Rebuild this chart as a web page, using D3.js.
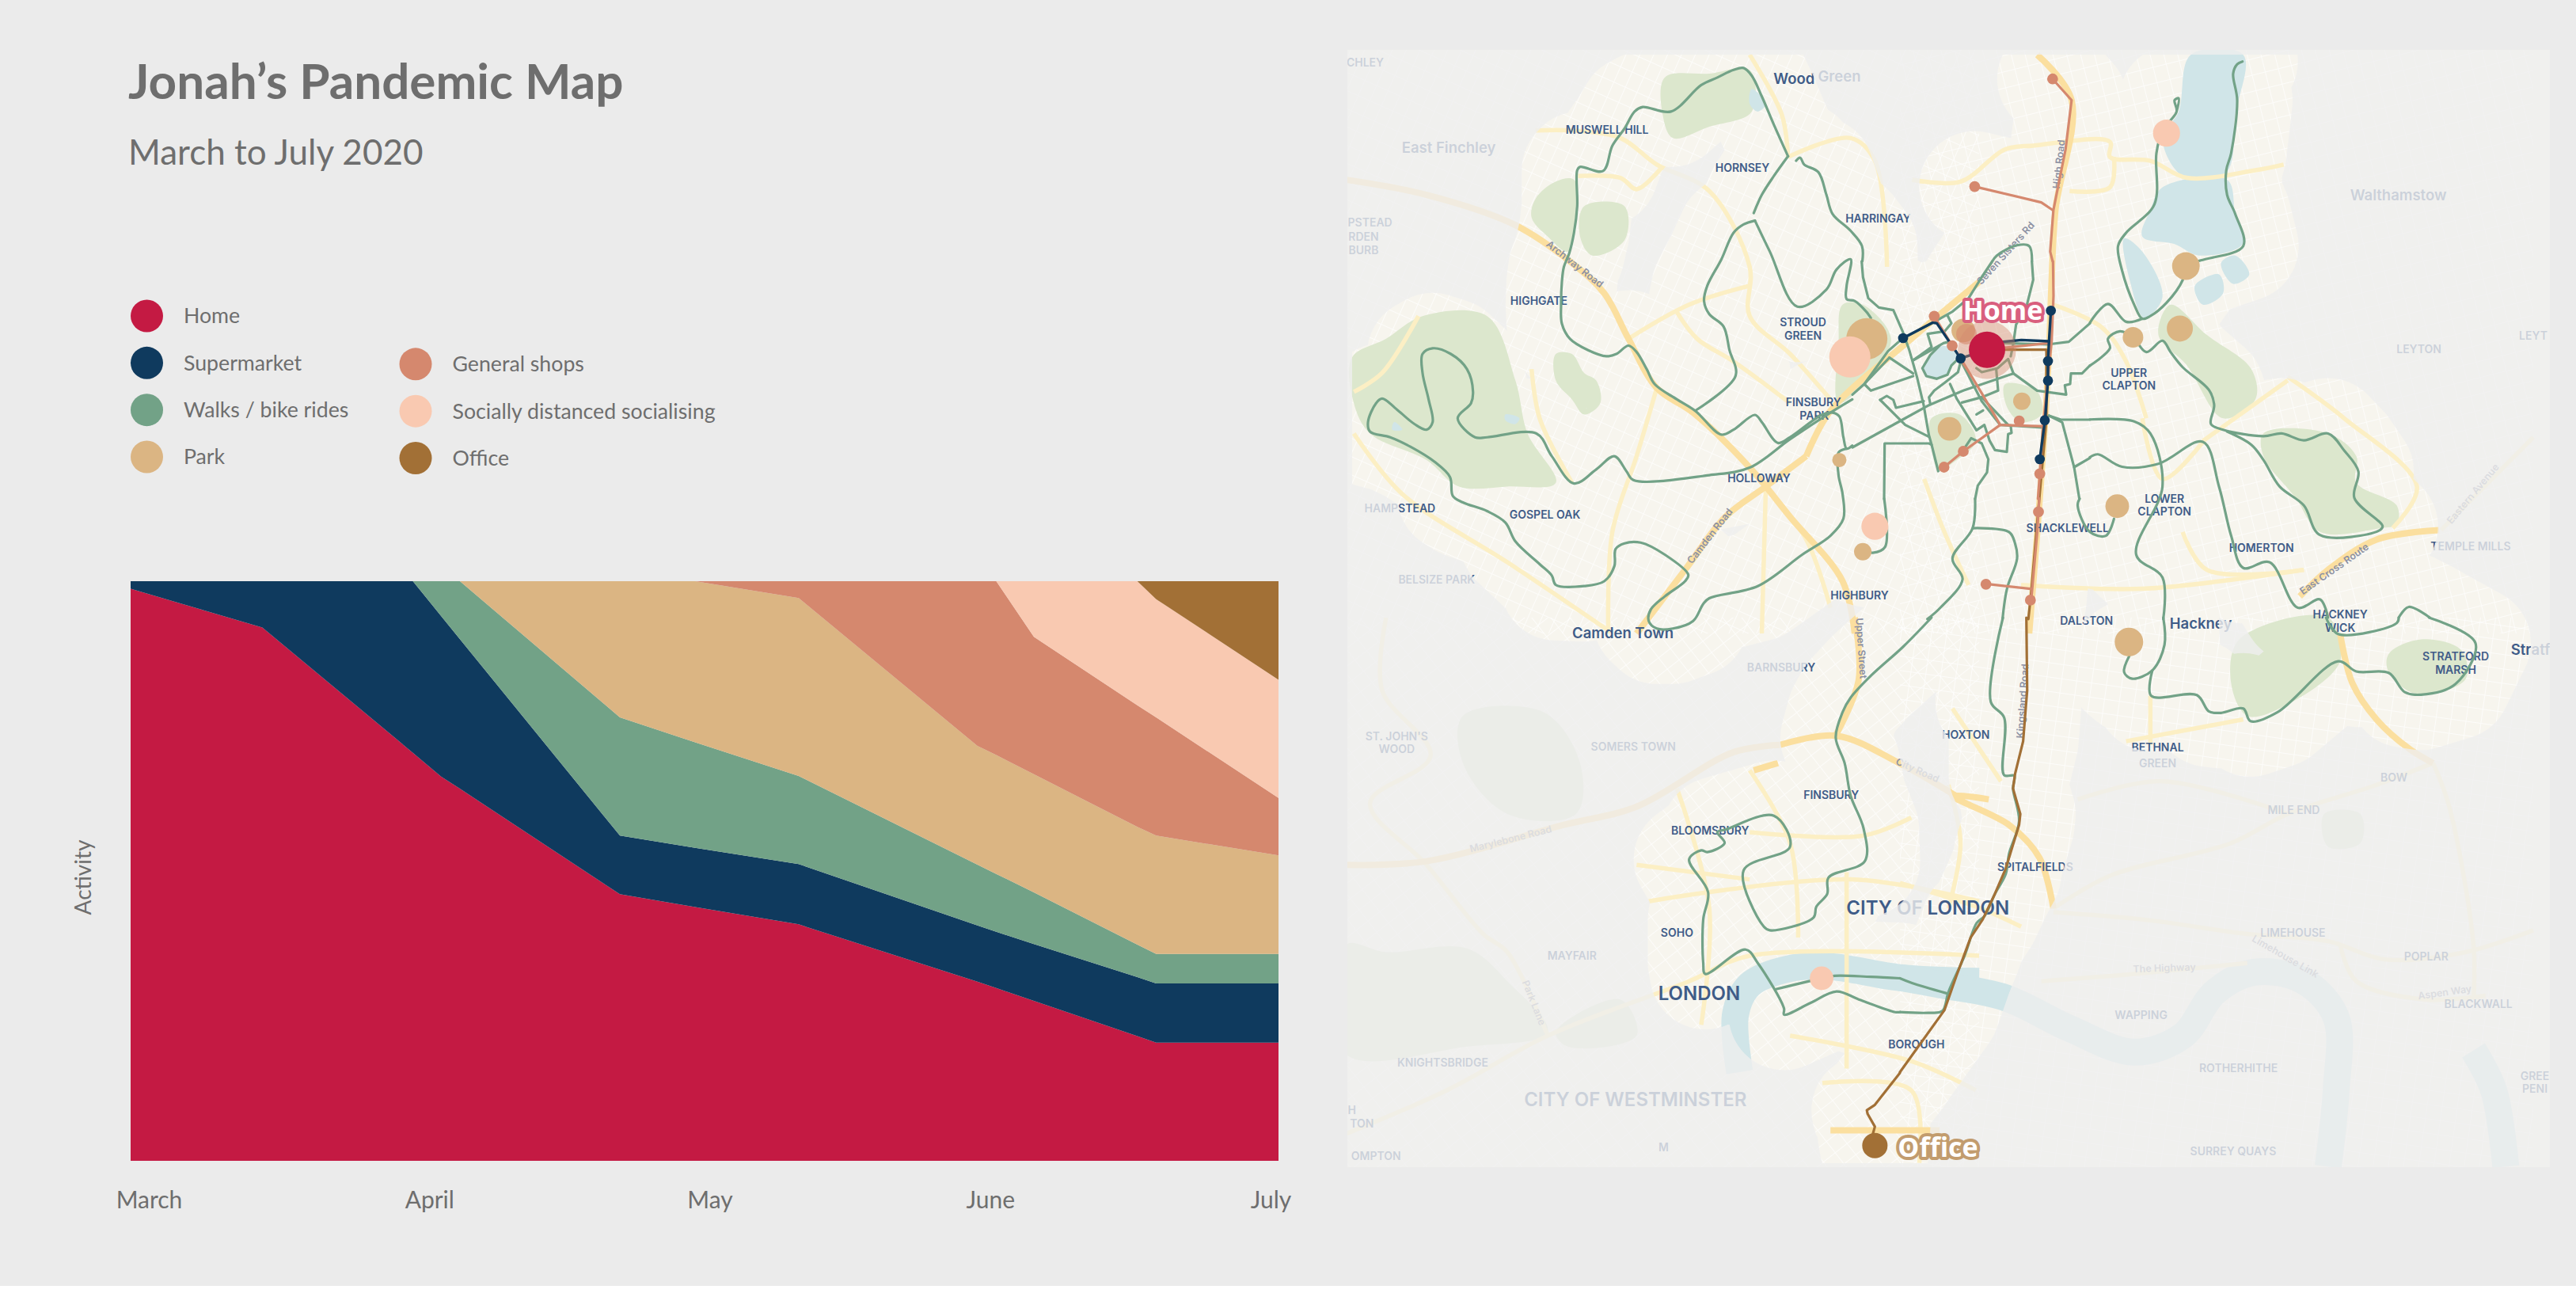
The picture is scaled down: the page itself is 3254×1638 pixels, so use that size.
<!DOCTYPE html>
<html>
<head>
<meta charset="utf-8">
<script src="https://cdnjs.cloudflare.com/ajax/libs/d3/7.8.5/d3.min.js"></script>
<style>
  html, body { margin: 0; background: #fff; }
  svg text { font-family: "Lato", "Open Sans", sans-serif; }
  .maplabel { font-family: "Inter", "Noto Sans", sans-serif !important; font-weight: 600; }
</style>
</head>
<body>
<div class="container"></div>
<script>
// ---- chart data: share of activity (%) at each day since 1 March
var days = [0, 14, 30, 33, 35, 52, 60, 71, 90, 92, 96, 107, 109, 122];
var home =        [98.7, 92.0, 70.4, 66.3, 64.2, 46.0, 43.8, 40.8, 30.9, 29.8, 27.6, 21.5, 20.4, 20.4];
var supermarket = [1.3, 8.0, 29.6, 27.7, 25.8, 10.1, 10.2, 10.4, 9.7, 9.7, 9.8, 10.2, 10.2, 10.2];
var walks =       [0, 0, 0, 6.0, 10.0, 20.4, 18.2, 15.2, 10.5, 10.0, 8.9, 5.6, 5.1, 5.1];
var park =        [0, 0, 0, 0, 0, 23.5, 27.8, 30.7, 20.5, 20.5, 20.4, 20.3, 20.4, 17.0];
var shops =       [0, 0, 0, 0, 0, 0, 0, 2.9, 28.4, 30.0, 23.7, 21.0, 20.4, 9.9];
var social =      [0, 0, 0, 0, 0, 0, 0, 0, 0, 0, 9.6, 21.4, 20.4, 20.4];
var office =      [0, 0, 0, 0, 0, 0, 0, 0, 0, 0, 0, 0, 3.1, 17.0];

var months = ["March", "April", "May", "June", "July"];
var seriesNames = ["Home", "Supermarket", "Walks / bike rides", "Park", "General shops", "Socially distanced socialising", "Office"];
var seriesColors = ["#C41A43", "#0F3A5E", "#72A287", "#DBB583", "#D5886E", "#F9C9B1", "#A27036"];

// ---- map data: every list is [sheet, [x, y], [x, y] ...] in map sheet grid units
var walkRoutes = [
  ["nw", [1095,308],[1060,225],[1030,150],[1005,95],[985,75],[960,80],[920,100],[880,120],[805,190],[735,178],[715,190],[690,235],[660,280],[637,347],[580,336],[573,345],[573,440],[565,510],[553,565],[540,600],[535,640],[533,700],[535,750],[555,790],[600,820],[645,836],[670,830],[700,808],[720,825],[745,870],[765,910],[820,950],[865,980],[930,1043],[960,1030],[1013,991],[1030,1010],[1070,1065],[1100,1050],[1180,990],[1205,985],[1222,995],[1232,1050],[1240,1080],[1254,1072]],
  ["nw", [1095,308],[1060,360],[1030,410],[1010,458]],
  ["nw", [1013,478],[985,488],[960,510],[930,580],[895,650],[887,690],[900,725],[935,757],[950,820],[965,888],[865,980]],
  ["nw", [1013,478],[1050,560],[1118,705],[1190,660],[1215,607],[1250,580],[1240,650],[1240,685],[1260,690],[1290,720],[1300,735]],
  ["nw", [1115,320],[1125,312],[1135,330],[1170,350],[1190,410],[1205,460],[1250,505],[1278,545],[1279,585]],
  ["nw", [1254,950],[1200,985],[1100,1055],[1000,1130],[900,1150],[712,1163],[695,1140],[665,1100],[620,1135],[565,1172],[510,1100],[472,1040],[350,1050],[320,1050],[277,1000],[310,960],[315,930],[300,870],[260,830],[215,815],[190,830],[190,880],[205,950],[215,1010],[200,1030],[170,1015],[130,980],[90,948],[75,960],[55,1010],[60,1035],[110,1050],[160,1075],[220,1115],[258,1155],[265,1205],[290,1222],[350,1245],[395,1275],[420,1325],[480,1385],[510,1415],[520,1440],[590,1443],[640,1430],[665,1390],[668,1345],[690,1330],[730,1328],[790,1360],[848,1413],[840,1430],[790,1470],[755,1505],[750,1535],[770,1555],[810,1555],[860,1535],[885,1490],[900,1475],[1020,1443],[1130,1360],[1200,1310],[1232,1265],[1230,1200],[1220,1150],[1220,1090],[1240,1080]],
  ["nw", [1333,1212],[1335,1340],[1305,1355],[1285,1350]],
  ["ne", [848,58],[835,65],[825,90],[835,160],[820,300],[808,345],[810,410],[830,460],[850,545],[745,583],[708,598],[700,635],[660,695],[620,730],[600,737],[580,700],[550,610],[540,545],[560,510],[630,435],[635,300],[650,240],[685,190],[680,160],[690,155],[685,190]],
  ["ne", [470,748],[515,698],[560,745],[600,737]],
  ["ne", [470,861],[520,815],[515,790],[545,770],[577,786],[610,825],[650,795],[670,825],[700,865],[765,925],[778,965],[770,1015],[800,1030],[900,1047],[945,1040],[1000,1058],[1060,1040],[1100,1085],[1135,1140],[1125,1210],[1195,1285],[1185,1297],[1040,1308],[1000,1230],[940,1180],[900,1110],[870,1070],[810,1035]],
  ["ne", [470,1003],[580,1008],[620,1040],[650,1180],[585,1360],[650,1420],[652,1530]],
  ["ne", [470,1103],[490,1095],[550,1128],[640,1120],[750,1062],[790,1180],[820,1310],[850,1395],[915,1380],[985,1500],[1040,1478],[1060,1526]],
  ["ne", [1235,1526],[1260,1498],[1312,1526]],
  ["ne", [445,1212],[440,1230],[470,1300],[510,1310],[530,1265]],
  ["ne", [186,1212],[180,1290],[130,1370],[155,1425],[100,1500],[68,1530]],
  ["ne", [180,1290],[270,1300],[285,1330],[290,1370],[265,1450],[254,1530]],
  ["ne", [229,585],[240,570],[290,543],[320,545],[327,585]],
  ["sw", [1450,0],[1380,80],[1300,160],[1250,220],[1230,260],[1213,330],[1235,400],[1250,490],[1282,580],[1285,670],[1195,715],[1192,760],[1165,795],[1158,825],[1050,860],[1035,850],[985,695],[1100,630],[1060,545],[940,583],[920,590],[938,620],[895,645],[880,640],[850,665],[897,755],[885,830],[885,950],[890,980],[990,913],[1020,950],[1085,1075],[1085,1092],[1150,1060],[1215,1028],[1270,1050],[1360,1085],[1372,1085]],
  ["sw", [1065,1022],[1178,992],[1210,985],[1300,988],[1372,992]],
  ["se", [0,1085],[70,1087],[105,1082],[120,1030],[160,930],[190,840],[210,820],[235,760],[262,705],[270,650],[295,560],[280,470],[283,435],[258,433],[258,275],[225,232],[255,0]],
  ["se", [0,992],[30,1005],[115,1033]],
  ["se", [568,105],[555,150],[575,168],[625,145],[655,75],[652,0]],
  ["se", [625,145],[622,215],[735,213],[765,258],[795,262],[850,250],[868,285],[935,260],[1085,120],[1130,148],[1210,152],[1250,205],[1290,212],[1375,183],[1425,70],[1310,0]],
  ["se", [1055,0],[1085,45],[1230,15],[1235,0]]
];
// the streets round the house are too tight for a smoothed line
var localWalks = [
  ["mid", [35,0],[40,60],[60,140],[100,175],[155,185],[190,265],[215,335],[245,440],[270,545],[290,660],[300,695],[325,795]],
  ["mid", [530,0],[490,60],[440,140],[380,190],[300,235],[190,292],[135,340],[45,465],[0,505]],
  ["mid", [140,365],[230,425]],
  ["mid", [140,365],[45,465],[70,490],[230,435]],
  ["mid", [360,205],[375,235],[350,265],[285,275],[300,325],[230,375]],
  ["mid", [230,375],[345,310],[365,305]],
  ["mid", [405,365],[375,395],[360,430],[320,445],[280,435],[265,405],[295,355],[330,320]],
  ["mid", [410,380],[400,420],[350,460],[310,490],[290,515],[295,540]],
  ["mid", [0,705],[190,600],[290,545],[420,490],[610,425],[700,490],[810,505],[805,470],[825,465],[828,425],[870,425],[900,395]],
  ["mid", [105,525],[130,510],[155,525],[165,555],[270,530]],
  ["mid", [105,525],[200,620],[290,665]],
  ["mid", [370,465],[395,520],[470,640],[500,620],[520,680],[540,715],[585,722],[590,655],[603,650],[600,625]],
  ["mid", [415,385],[490,530],[560,620],[720,630]],
  ["mid", [545,410],[552,490],[490,515],[415,535]],
  ["mid", [490,515],[590,620]],
  ["mid", [470,580],[495,565]],
  ["mid", [470,405],[490,420],[550,405],[590,370],[610,425]],
  ["mid", [680,0],[685,70],[660,170],[620,240],[610,310],[600,360]],
  ["mid", [575,310],[740,315],[820,305],[900,235]],
  ["mid", [120,900],[122,690],[290,690],[300,695]],
  ["mid", [420,715],[450,670],[490,690],[515,750],[510,800],[475,850],[465,900]],
  ["mid", [745,585],[790,600],[900,600]],
  ["mid", [745,585],[795,610],[840,780],[860,900]],
  ["mid", [840,780],[900,745]]
];
var shopRoutes = [
  ["ne", [378,104],[425,160],[410,290],[380,450],[372,560],[378,585]],
  ["ne", [185,388],[350,430],[378,450]],
  ["ne", [345,1212],[340,1300],[325,1480]],
  ["ne", [213,1437],[323,1450]],
  ["mid", [310,208],[378,320],[410,368],[490,500],[560,620],[725,625]],
  ["mid", [560,620],[420,720],[347,780]],
  ["mid", [510,335],[740,310]],
  ["mid", [760,0],[762,130],[755,300],[735,500],[722,625],[710,805],[703,900]]
];
var supermarketRoutes = [
  ["mid", [192,291],[305,232],[320,235],[410,368],[510,335]],
  ["mid", [510,335],[570,305],[640,298],[745,303],[752,187]],
  ["mid", [745,303],[741,378],[741,452],[730,600],[710,750]]
];
var officeRoutes = [
  ["mid", [510,335],[735,335],[735,600],[708,900]],
  ["ne", [345,1212],[325,1460],[318,1530]],
  ["se", [313,0],[315,200],[305,340],[285,430],[280,470],[298,540],[295,570],[262,690],[235,760],[205,830],[175,880],[140,985],[110,1080],[0,1250]],
  ["sw", [1372,1252],[1310,1340],[1290,1355],[1292,1365],[1310,1400],[1305,1420],[1310,1452]]
];

// stops: [sheet, x, y, visits]
var parkStops = [["nw",1290,790,100],["nw",1222,1110,12],["nw",1280,1352,18],["ne",708,598,45],["ne",693,763,40],["ne",577,786,25],["mid",420,262,33],["mid",642,530,18],["mid",368,635,33],["ne",538,1232,33],["se",567,67,48]];
var socialStops = [["nw",1248,838,100],["ne",660,247,43],["nw",1310,1285,43],["sw",1178,992,33]];
var shopStops = [["ne",378,104,7],["ne",185,388,7],["mid",310,208,7],["mid",378,320,7],["mid",632,605,7],["mid",420,720,7],["mid",347,780,7],["mid",710,805,7],["ne",343,1247,7],["ne",323,1480,7],["ne",213,1438,7]];
var supermarketStops = [["mid",192,291,6],["mid",410,368,6],["mid",752,187,6],["mid",741,378,6],["mid",741,452,6],["mid",729,602,6],["mid",710,750,6]];
var homeStop = ["mid",510,335,78];
var officeStop = ["sw",1310,1452,38];

// basemap shapes, same sheets
var parks = [
  ["nw", [15,840],[100,790],[190,730],[350,730],[420,900],[450,1040],[520,1170],[400,1180],[280,1180],[200,1110],[60,1040],[20,960]],
  ["nw", [470,420],[520,375],[565,370],[570,470],[550,560],[500,520],[460,470]],
  ["nw", [590,440],[690,440],[690,530],[610,570],[580,520]],
  ["nw", [790,100],[900,90],[1000,80],[1005,190],[900,230],[810,260],[785,200]],
  ["nw", [520,830],[560,830],[590,880],[620,900],[630,960],[590,990],[560,950],[520,900]],
  ["nw", [1230,700],[1280,700],[1350,790],[1290,900],[1220,960],[1220,800]],
  ["nw", [1450,1000],[1520,990],[1560,1060],[1500,1120],[1470,1140],[1450,1080]],
  ["ne", [670,700],[760,780],[870,870],[880,950],[800,1000],[710,860],[640,780]],
  ["ne", [900,1040],[1060,1040],[1130,1100],[1130,1170],[1230,1230],[1230,1280],[1190,1290],[1040,1300],[980,1210],[900,1100]],
  ["ne", [260,910],[340,930],[350,990],[300,1010],[265,970]],
  ["se", [840,60],[1060,0],[1090,120],[940,250],[860,270],[820,180]],
  ["se", [1210,100],[1290,60],[1390,90],[1400,170],[1280,210],[1210,150]],
  ["sw", [290,270],[490,260],[580,400],[570,540],[400,540],[290,400]],
  ["sw", [0,900],[100,920],[300,910],[400,1000],[500,1140],[300,1180],[0,1200]],
  ["sw", [520,1140],[680,1050],[720,1150],[550,1180]],
  ["se", [1050,540],[1140,540],[1140,620],[1060,630]]
];
var waters = [
  ["ne", [720,40],[850,40],[830,200],[808,350],[700,360],[650,260],[690,190]],
  ["ne", [650,390],[810,370],[830,460],[848,540],[740,570],[680,540],[600,520],[620,450]],
  ["ne", [555,525],[600,560],[650,680],[605,735],[570,640]],
  ["mid", [395,345],[345,320],[295,355],[265,405],[280,435],[320,445],[360,430],[375,395]],
  ["ne", [730,650],[790,620],[800,670],[750,700]],
  ["ne", [795,590],[830,570],[865,620],[825,645]],
  ["nw", [395,990],[430,1000],[420,1015],[395,1005]],
  ["nw", [120,1010],[140,1030],[115,1030]],
  ["nw", [1005,130],[1040,170],[1020,190],[1000,170]]
];
var rivers = [
  ["sw", [1568,1000],[1370,990],[1200,960],[1100,965],[1000,1010],[965,1090],[975,1250]],
  ["se", [0,990],[100,1010],[260,1045],[420,1130],[580,1195],[700,1150],[780,1030],[880,975],[1000,1000],[1080,1100],[1080,1300],[1060,1510]],
  ["se", [1420,1190],[1470,1300],[1500,1510]]
];
var mainRoads = [
  ["nw", [0,370],[200,410],[420,490],[560,590],[640,670],[700,790],[770,920],[860,985],[1000,1130],[1100,1260],[1230,1430],[1260,1568]],
  ["nw", [1140,1100],[1040,1180],[940,1260],[840,1400],[720,1568]],
  ["nw", [1568,640],[1400,790],[1200,980],[1140,1100]],
  ["ne", [340,40],[425,160],[385,450],[375,650],[370,800],[360,1000],[340,1300],[320,1568]],
  ["ne", [990,1470],[1060,1400],[1180,1320],[1335,1295]],
  ["sw", [1075,350],[1215,325],[1370,400],[1510,490]],
  ["sw", [1010,420],[1070,400]],
  ["sw", [1260,0],[1270,170],[1215,320]],
  ["sw", [0,680],[200,670],[540,570],[720,520],[960,370],[1075,350]],
  ["sw", [1200,1410],[1470,1410]],
  ["se", [220,500],[130,490],[270,570],[345,660],[380,800]],
  ["se", [1090,45],[1120,180],[1180,280],[1260,360],[1320,400]]
];
var sideRoads = [
  ["nw", [470,240],[560,240],[680,260],[770,330],[900,400],[1000,600],[1000,730],[1100,830],[1200,950]],
  ["nw", [1095,310],[1250,260],[1310,320],[1340,600]],
  ["nw", [1000,40],[1080,200],[1095,310]],
  ["nw", [770,920],[720,1100],[660,1300],[650,1568]],
  ["nw", [180,730],[90,880],[20,930]],
  ["nw", [20,1040],[140,1200],[400,1380],[650,1560]],
  ["nw", [700,790],[850,700],[1000,650]],
  ["nw", [820,720],[870,790],[960,850],[1100,960]],
  ["nw", [1040,1180],[1030,1568]],
  ["nw", [1040,1180],[1140,1320],[1200,1500]],
  ["nw", [460,870],[480,1000],[560,1170]],
  ["nw", [575,360],[680,365],[720,395],[780,340]],
  ["ne", [30,370],[150,375],[260,290],[330,280],[520,270],[520,310],[620,320],[710,365],[880,345],[950,330]],
  ["ne", [380,700],[500,760],[560,850],[610,1000]],
  ["ne", [750,1060],[960,900]],
  ["ne", [960,890],[1100,1000],[1280,1180],[1220,1290]],
  ["ne", [1340,1295],[1568,1050]],
  ["ne", [300,1440],[600,1450],[1000,1400]],
  ["ne", [420,400],[520,390],[530,310]],
  ["ne", [600,1000],[650,1160],[750,1062]],
  ["ne", [700,1300],[760,1400],[1000,1400]],
  ["ne", [60,1160],[110,1300],[170,1440]],
  ["sw", [100,0],[90,200],[210,380],[60,510],[200,680],[340,870],[400,920],[500,1150]],
  ["sw", [0,1420],[250,1300],[500,1150],[850,1000],[1000,930],[1568,930]],
  ["sw", [750,780],[1250,720],[1568,780]],
  ["sw", [820,470],[900,800],[880,1120]],
  ["sw", [1240,700],[1240,1240]],
  ["sw", [1000,420],[1100,620],[1120,880]],
  ["sw", [1000,590],[1280,600],[1400,550]],
  ["sw", [720,680],[1000,720]],
  ["sw", [1100,1150],[1400,1220],[1560,1300]],
  ["sw", [1180,1280],[1400,1300],[1420,1500]],
  ["se", [380,800],[520,710],[820,620],[960,540],[1180,460],[1320,400]],
  ["se", [380,810],[600,830],[860,870],[1060,890],[1200,940],[1400,920],[1568,860]],
  ["se", [350,1000],[580,980],[860,950]],
  ["se", [1320,400],[1360,520],[1420,900],[1420,1050]],
  ["se", [1090,900],[1130,1000],[1300,1050],[1450,1040]],
  ["se", [440,500],[650,450],[960,540]],
  ["se", [0,730],[200,800],[300,850]],
  ["se", [120,460],[150,620],[120,800]],
  ["se", [560,340],[850,280]],
  ["se", [620,215],[620,350]],
  ["se", [130,250],[250,450]]
];

// place names: [text, sheet, x, y]
var placeNames = [
  ["CHLEY","nw",48,60],["PSTEAD","nw",60,484],["RDEN","nw",44,520],["BURB","nw",44,556],
  ["MUSWELL HILL","nw",647,238],["HORNSEY","nw",982,338],["HARRINGAY","nw",1318,473],
  ["STROUD","nw",1132,747],["GREEN","nw",1132,782],["HIGHGATE","nw",478,690],
  ["FINSBURY","nw",1158,958],["PARK","nw",1160,993],["HOLLOWAY","nw",1023,1158],
  ["HAMPSTEAD","nw",134,1238],["GOSPEL OAK","nw",493,1255],["BELSIZE PARK","nw",225,1426],["HIGHBURY","nw",1272,1468],
  ["UPPER","ne",567,880],["CLAPTON","ne",567,914],["LOWER","ne",655,1212],["CLAPTON","ne",655,1246],
  ["SHACKLEWELL","ne",415,1290],["DALSTON","ne",462,1535],["HOMERTON","ne",895,1343],["LEYTON","ne",1285,817],
  ["LEYT","ne",1568,782],["TEMPLE MILLS","ne",1413,1339],["HACKNEY","ne",1090,1517],["WICK","se",1090,28],
  ["ST. JOHN'S","sw",126,326],["WOOD","sw",126,362],["SOMERS TOWN","sw",712,356],["BARNSBURY","sw",1078,137],
  ["FINSBURY","sw",1202,487],["BLOOMSBURY","sw",902,585],["SOHO","sw",820,866],["MAYFAIR","sw",560,931],
  ["KNIGHTSBRIDGE","sw",240,1224],["BOROUGH","sw",1413,1174],["H","sw",15,1355],["TON","sw",40,1392],["OMPTON","sw",75,1481],["M","sw",787,1457],
  ["HOXTON","se",163,322],["BETHNAL","se",638,358],["GREEN","se",638,400],["BOW","se",1223,441],["MILE END","se",975,530],
  ["SPITALFIELDS","se",335,687],["LIMEHOUSE","se",973,868],["POPLAR","se",1303,932],["WAPPING","se",597,1093],
  ["ROTHERHITHE","se",838,1240],["BLACKWALL","se",1432,1063],["SURREY QUAYS","se",825,1468],
  ["STRATFORD","se",1376,107],["MARSH","se",1376,143],["GREE","se",1572,1261],["PENI","se",1572,1297]
];
var townNames = [
  ["East Finchley","nw",255,285],["Wood","nw",1110,104],["Green","nw",1222,97],["Camden Town","sw",686,42],
  ["Walthamstow","ne",1234,410],["Hackney","se",745,16],["Stratford","se",1590,88]
];
var cityNames = [["CITY OF WESTMINSTER","sw",717,1326],["CITY OF LONDON","sw",1441,798],["LONDON","sw",875,1033]];
// road names: [text, sheet, x, y, angle]
var roadNames = [
  ["Archway Road","nw",562,600,38],["Camden Road","nw",908,1316,-52],["Seven Sisters Rd","ne",268,570,-48],["High Road","ne",402,330,-84],
  ["Upper Street","sw",1268,85,86],["City Road","sw",1412,428,24],["Marylebone Road","sw",410,618,-14],["Park Lane","sw",458,1063,68],
  ["East Cross Route","ne",1080,1405,-35],["Eastern Avenue","ne",1425,1205,-50],["Kingsland Road","se",312,230,-86],
  ["The Highway","se",655,973,-2],["Limehouse Link","se",950,940,30],["Aspen Way","se",1350,1040,-8]
];

// ---- page
var svg = d3.select(".container").append("svg")
    .attr("width", 3254)
    .attr("height", 1638)
    .style("display", "block");
svg.append("rect").attr("width", 3254).attr("height", 1624).attr("fill", "#EBEBEB");

var textColor = "#6E6E6E";
svg.append("text").attr("x", 162).attr("y", 125).attr("font-size", 62).attr("font-weight", 700).attr("fill", textColor).text("Jonah’s Pandemic Map");
svg.append("text").attr("x", 162).attr("y", 208).attr("font-size", 44).attr("fill", textColor).text("March to July 2020");

// legend, first column has one more row
var legendX = d3.scalePoint().domain([0, 1]).range([185.5, 525]);
var legendY = d3.scalePoint().domain([0, 1, 2, 3]).range([399, 577]);
var legend = svg.selectAll(".legend").data(seriesNames).enter().append("g").attr("class", "legend")
    .attr("transform", function(d, i) {
      var col = i < 4 ? 0 : 1, row = i < 4 ? i : i - 3;
      return "translate(" + legendX(col) + "," + (legendY(row) + col * 1.5) + ")";
    });
legend.append("circle").attr("r", 20.5).attr("fill", function(d, i) { return seriesColors[i]; });
legend.append("text").attr("x", 46.5).attr("dy", ".35em").attr("font-size", 26.7).attr("fill", textColor).text(function(d) { return d; });

// stacked area
var x = d3.scaleLinear().domain([d3.min(days), d3.max(days)]).range([165, 1615]);
var y = d3.scaleLinear().domain([0, 100]).range([1466, 734]);
var rows = days.map(function(d, i) {
  var row = { day: d };
  [home, supermarket, walks, park, shops, social, office].forEach(function(s, j) { row[seriesNames[j]] = s[i]; });
  return row;
});
var stack = d3.stack().keys(seriesNames)(rows);
var area = d3.area()
    .x(function(d) { return x(d.data.day); })
    .y0(function(d) { return y(d[0]); })
    .y1(function(d) { return y(d[1]); });
svg.append("g").selectAll("path").data(stack).enter().append("path")
    .attr("d", area)
    .attr("fill", function(d, i) { return seriesColors[i]; });

var monthScale = d3.scalePoint().domain(months).range([188, 1605]);
var axis = svg.append("g").attr("transform", "translate(0,1492)")
    .call(d3.axisBottom(monthScale).tickSize(0).tickPadding(13));
axis.select(".domain").remove();
axis.selectAll("text").attr("font-size", 30).attr("fill", textColor).style("font-family", "Lato");

svg.append("text")
    .attr("transform", "translate(115,1108) rotate(-90)")
    .attr("text-anchor", "middle")
    .attr("font-size", 28)
    .attr("fill", textColor)
    .text("Activity");

// ---- map: one scale pair per sheet of the map
var panel = { x: 1702, y: 63, w: 1519, h: 1411 };
function sheet(x0, y0, w, h, size) {
  return { x: d3.scaleLinear().domain([0, size]).range([x0, x0 + w]),
           y: d3.scaleLinear().domain([0, size]).range([y0, y0 + h]) };
}
var sheets = {
  nw: sheet(1700, 50, 800, 750, 1568),
  ne: sheet(2400, 50, 800, 750, 1568),
  sw: sheet(1700, 780, 800, 720, 1568),
  se: sheet(2400, 780, 800, 720, 1568),
  mid: sheet(2340, 330, 300, 300, 900)
};
function px(p, k) { return sheets[k].x(p[0]); }
function py(p, k) { return sheets[k].y(p[1]); }
function pathFor(rec, curve) {
  var k = rec[0];
  return d3.line().x(function(p) { return px(p, k); }).y(function(p) { return py(p, k); }).curve(curve)(rec.slice(1));
}
var smooth = d3.curveCatmullRom.alpha(0.5);

var defs = svg.append("defs");
defs.append("clipPath").attr("id", "panelClip").append("rect")
    .attr("x", panel.x).attr("y", panel.y).attr("width", panel.w).attr("height", panel.h);
defs.append("clipPath").attr("id", "revealClip").append("rect")
    .attr("x", 1708).attr("y", 69).attr("width", 1512).attr("height", 1400);

var map = svg.append("g").attr("clip-path", "url(#panelClip)");
map.append("rect").attr("x", panel.x).attr("y", panel.y).attr("width", panel.w).attr("height", panel.h).attr("fill", "#F7F5EE");

// street texture, the grid turns from one quarter of the map to the next
[["nw", 24, 0, 0, 1568, 1568], ["ne", -14, 0, 0, 1568, 1568], ["sw", 52, 0, 0, 1568, 1568], ["se", 8, 0, 0, 1568, 1568]].forEach(function(t, i) {
  var s = sheets[t[0]];
  var pattern = defs.append("pattern").attr("id", "streets" + i).attr("patternUnits", "userSpaceOnUse")
      .attr("width", 16 + i).attr("height", 21 - i).attr("patternTransform", "rotate(" + t[1] + ")");
  pattern.append("path").attr("d", "M0 0H" + (16 + i) + "M0 0V" + (21 - i)).attr("stroke", "#fff").attr("stroke-width", 2).attr("opacity", 0.7);
  map.append("rect").attr("x", s.x(0)).attr("y", s.y(0)).attr("width", s.x(1568) - s.x(0)).attr("height", s.y(1568) - s.y(0))
      .attr("fill", "url(#streets" + i + ")");
});

map.append("g").selectAll("path").data(parks).enter().append("path")
    .attr("d", function(d) { return pathFor(d, d3.curveCatmullRomClosed) + "Z"; }).attr("fill", "#DCE7CD");
map.append("g").selectAll("path").data(rivers).enter().append("path")
    .attr("d", function(d) { return pathFor(d, smooth); }).attr("fill", "none").attr("stroke", "#D0E5E8").attr("stroke-width", 34);
map.append("g").selectAll("path").data(waters).enter().append("path")
    .attr("d", function(d) { return pathFor(d, d3.curveCatmullRomClosed) + "Z"; }).attr("fill", "#D0E5E8");
map.append("g").selectAll("path").data(sideRoads).enter().append("path")
    .attr("d", function(d) { return pathFor(d, smooth); }).attr("fill", "none").attr("stroke", "#FCEFC4").attr("stroke-width", 5.5);
map.append("g").selectAll("path").data(mainRoads).enter().append("path")
    .attr("d", function(d) { return pathFor(d, smooth); }).attr("fill", "none").attr("stroke", "#FBDF9F").attr("stroke-width", 8);

function labels(list, size) {
  map.append("g").selectAll("text").data(list).enter().append("text")
      .attr("class", "maplabel")
      .attr("text-anchor", "middle")
      .attr("dy", ".35em")
      .attr("x", function(d) { return sheets[d[1]].x(d[2]); })
      .attr("y", function(d) { return sheets[d[1]].y(d[3]); })
      .attr("font-size", size)
      .attr("fill", "#3F5C88")
      .text(function(d) { return d[0]; });
}
labels(placeNames, 14);
labels(townNames, 18.5);
labels(cityNames, 24);
map.append("g").selectAll("text").data(roadNames).enter().append("text")
    .attr("class", "maplabel")
    .attr("text-anchor", "middle")
    .attr("font-size", 12.5)
    .attr("fill", "#8C91A3")
    .attr("transform", function(d) {
      return "translate(" + sheets[d[1]].x(d[2]) + "," + sheets[d[1]].y(d[3]) + ") rotate(" + d[4] + ")";
    })
    .text(function(d) { return d[0]; });

// veil with a hole cut round everywhere he went
var mask = defs.append("mask").attr("id", "veilMask").attr("maskUnits", "userSpaceOnUse")
    .attr("x", panel.x).attr("y", panel.y).attr("width", panel.w).attr("height", panel.h);
mask.append("rect").attr("x", panel.x).attr("y", panel.y).attr("width", panel.w).attr("height", panel.h).attr("fill", "#fff");
var holes = mask.append("g").attr("clip-path", "url(#revealClip)");
holes.selectAll("path").data(walkRoutes.concat(localWalks, shopRoutes, officeRoutes)).enter().append("path")
    .attr("d", function(d) { return pathFor(d, d3.curveLinear); })
    .attr("fill", "none").attr("stroke", "#000").attr("stroke-width", 140)
    .attr("stroke-linecap", "round").attr("stroke-linejoin", "round");
map.append("rect").attr("x", panel.x).attr("y", panel.y).attr("width", panel.w).attr("height", panel.h)
    .attr("fill", "#EFEFEF").attr("opacity", 0.8).attr("mask", "url(#veilMask)");

// routes
function routes(list, curve, color, width) {
  map.append("g").selectAll("path").data(list).enter().append("path")
      .attr("d", function(d) { return pathFor(d, curve); })
      .attr("fill", "none").attr("stroke", color).attr("stroke-width", width)
      .attr("stroke-linejoin", "round").attr("stroke-linecap", "round");
}
routes(walkRoutes, smooth, seriesColors[2], 3.2);
routes(localWalks, d3.curveLinear, seriesColors[2], 3.2);
routes(officeRoutes, d3.curveLinear, seriesColors[6], 3.2);
routes(shopRoutes, d3.curveLinear, seriesColors[4], 3.2);
routes(supermarketRoutes, d3.curveLinear, seriesColors[1], 3.4);

// stops, area scales with visits
var r = d3.scaleSqrt().domain([0, 100]).range([0, 26]);
function stops(list, color, opacity) {
  map.append("g").selectAll("circle").data(list).enter().append("circle")
      .attr("cx", function(d) { return sheets[d[0]].x(d[1]); })
      .attr("cy", function(d) { return sheets[d[0]].y(d[2]); })
      .attr("r", function(d) { return r(d[3]); })
      .attr("fill", color).attr("opacity", opacity || 1);
}
stops(parkStops, seriesColors[3]);
stops(socialStops, seriesColors[5]);
stops([["mid", 510, 335, 200]], seriesColors[4], 0.42);
stops([["mid", 432, 276, 25]], seriesColors[4], 0.6);
stops(shopStops, seriesColors[4]);
stops(supermarketStops, seriesColors[1]);
stops([homeStop], seriesColors[0]);
stops([officeStop], seriesColors[6]);

// the two big place labels
function callout(text, xPos, yPos, color) {
  svg.append("text").attr("x", xPos).attr("y", yPos).attr("dy", ".35em").attr("text-anchor", "middle")
      .attr("font-size", 34).attr("font-weight", 700).style("font-family", "Open Sans")
      .attr("fill", "#fff").attr("stroke", color).attr("stroke-width", 8)
      .attr("stroke-linejoin", "round").style("paint-order", "stroke")
      .text(text);
}
callout("Home", 2530, 392, "#D95F7E");
callout("Office", 2448, 1449, "#C29C6E");
</script>
</body>
</html>
